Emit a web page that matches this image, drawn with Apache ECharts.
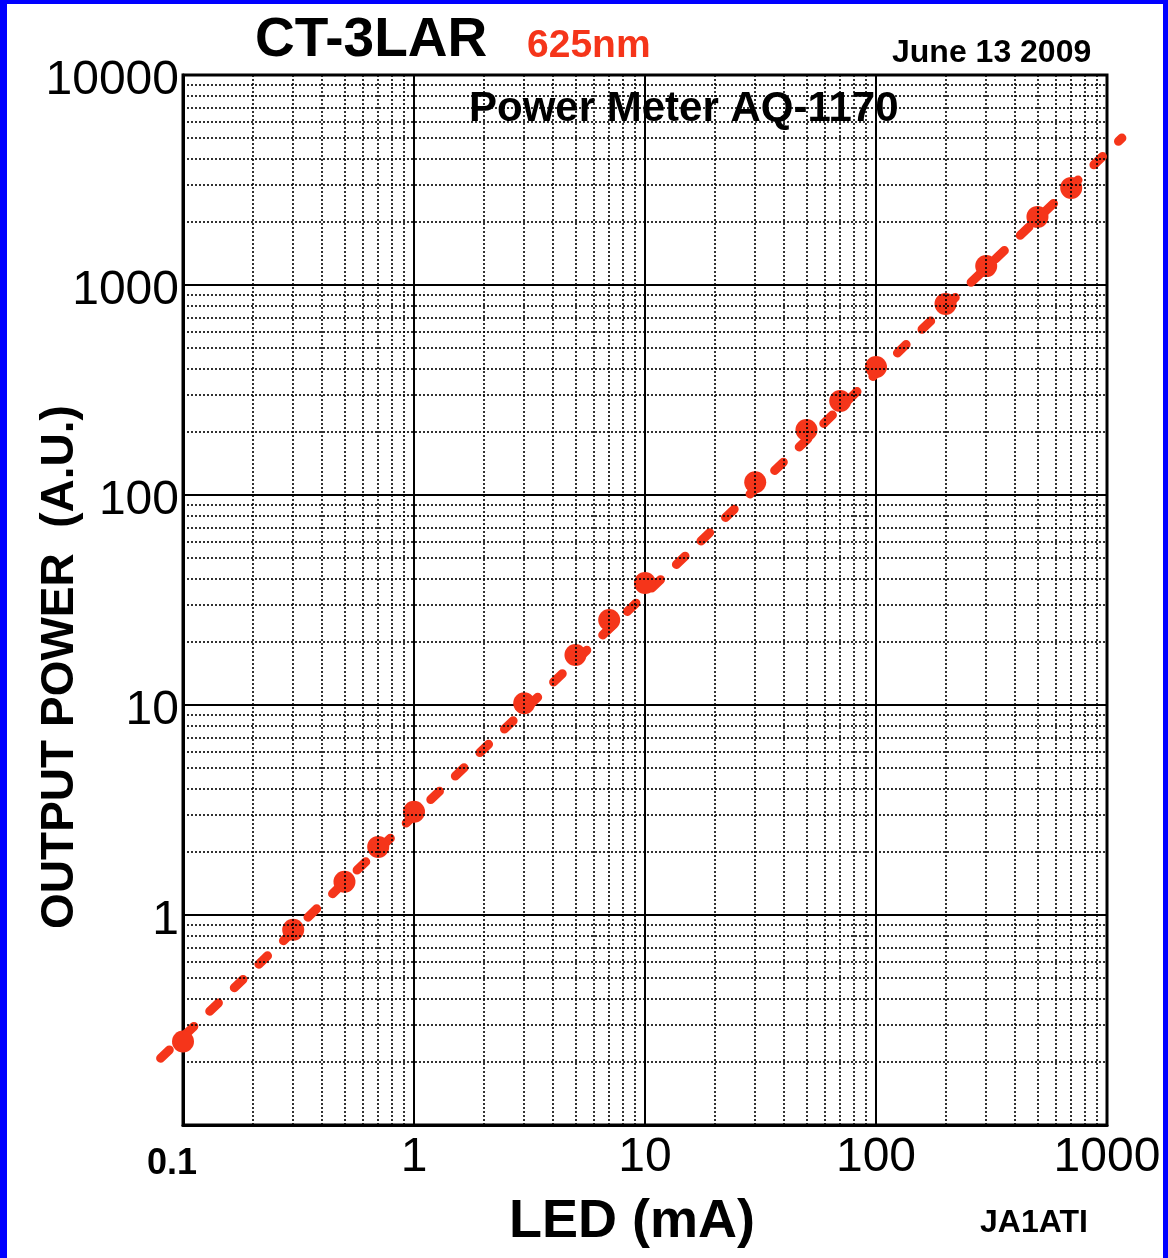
<!DOCTYPE html>
<html>
<head>
	<meta charset="utf-8">
	<title>CT-3LAR 625nm</title>
	<script src="https://cdn.jsdelivr.net/npm/echarts@6/dist/echarts.min.js"></script>
	<style>
		html, body { margin: 0; padding: 0; background: #fff; }
		#chart { width: 1168px; height: 1258px; }
	</style>
</head>
<body>
	<div id="chart"></div>
	<script>
		// measured points, LED current (mA) vs output power (A.U.)
		var ledCurrent = [0.1, 0.3, 0.5, 0.7, 1, 3, 5, 7, 10, 30, 50, 70, 100, 200, 300, 500, 700];
		var outputPower = [0.25, 0.85, 1.44, 2.11, 3.1, 10.2, 17.3, 25.4, 38.1, 115, 204, 280, 407, 813, 1230, 2110, 2900];

		// dashed fit line end points (runs a bit past the frame)
		var fitX = [0.08, 1160];
		var fitY = [0.208, 5010];

		// decades and minor multipliers for the grid
		var xDecades = [0.1, 1, 10, 100];
		var yDecades = [0.1, 1, 10, 100, 1000];
		var minorSteps = [2, 3, 4, 5, 6, 7, 8, 9];

		var red = '#f5351a';
		var font = '"Liberation Sans", Arial, Helvetica, sans-serif';

		var scatterData = ledCurrent.map(function (v, i) { return [v, outputPower[i]]; });
		var fitData = fitX.map(function (v, i) { return [v, fitY[i]]; });

		var minorLines = [];
		xDecades.forEach(function (d) {
			minorSteps.forEach(function (k) { minorLines.push({ xAxis: d * k }); });
		});
		yDecades.forEach(function (d) {
			minorSteps.forEach(function (k) { minorLines.push({ yAxis: d * k }); });
		});

		// main plot box
		var plotLeft = 183, plotTop = 75, plotW = 924, plotH = 1050;
		// the fit line sticks out of the box, so it gets its own hidden grid
		// sized so that its scale is the same as the main one
		var pxPerDecadeX = plotW / 4, pxPerDecadeY = plotH / 5;
		var fitLeft = plotLeft + Math.log10(fitX[0] / 0.1) * pxPerDecadeX;
		var fitRight = plotLeft + Math.log10(fitX[1] / 0.1) * pxPerDecadeX;
		var fitBottom = plotTop + plotH - Math.log10(fitY[0] / 0.1) * pxPerDecadeY;
		var fitTop = plotTop + plotH - Math.log10(fitY[1] / 0.1) * pxPerDecadeY;

		var chart = echarts.init(document.getElementById('chart'));
		chart.setOption({
			animation: false,
			backgroundColor: '#fff',
			textStyle: { fontFamily: font },
			grid: [{
				left: plotLeft, top: plotTop, width: plotW, height: plotH,
				outerBoundsMode: 'none',
				show: true, borderColor: '#000', borderWidth: 3
			}, {
				left: fitLeft, top: fitTop, width: fitRight - fitLeft, height: fitBottom - fitTop,
				outerBoundsMode: 'none'
			}],
			xAxis: [{
				type: 'log', logBase: 10, min: 0.1, max: 1000,
				name: 'LED (mA)', nameLocation: 'middle', nameGap: 70, nameMoveOverlap: false,
				nameTextStyle: { fontSize: 54, fontWeight: 'bold', color: '#000', padding: [0, 26, 0, 0] },
				axisLine: { lineStyle: { color: '#000', width: 3 } },
				axisTick: { show: false },
				axisLabel: {
					fontSize: 48, color: '#000', margin: 9,
					formatter: function (v) {
						if (v < 0.5) return '{b|0.1}';
						return String(Math.round(v));
					},
					rich: { b: { fontSize: 36, fontWeight: 'bold', color: '#000', padding: [12, 22, 0, 0] } }
				},
				splitLine: { show: true, lineStyle: { color: '#000', width: 2 } }
			}, {
				type: 'log', logBase: 10, gridIndex: 1, min: fitX[0], max: fitX[1], show: false
			}],
			yAxis: [{
				type: 'log', logBase: 10, min: 0.1, max: 10000,
				name: 'OUTPUT POWER  (A.U.)', nameLocation: 'middle', nameGap: 100, nameMoveOverlap: false,
				nameTextStyle: { fontSize: 46, fontWeight: 'bold', color: '#000', padding: [0, 134, 0, 0] },
				axisLine: { lineStyle: { color: '#000', width: 3 } },
				axisTick: { show: false },
				axisLabel: {
					color: '#000', margin: 4,
					formatter: function (v) {
						if (v < 0.5) return '';
						return '{a|' + Math.round(v) + '}';
					},
					rich: { a: { fontSize: 48, color: '#000', padding: [12, 0, 0, 0] } }
				},
				splitLine: { show: true, lineStyle: { color: '#000', width: 2 } }
			}, {
				type: 'log', logBase: 10, gridIndex: 1, min: fitY[0], max: fitY[1], show: false
			}],
			graphic: [
				// blue frame
				{ type: 'rect', shape: { x: 0, y: 0, width: 7, height: 1258 }, style: { fill: '#0000ff' } },
				{ type: 'rect', shape: { x: 0, y: 0, width: 1168, height: 4 }, style: { fill: '#0000ff' } },
				{ type: 'rect', shape: { x: 1163, y: 0, width: 5, height: 1258 }, style: { fill: '#0000ff' } },
				{ type: 'text', style: { x: 255, y: 41, text: 'CT-3LAR', font: 'bold 55px ' + font, fill: '#000', textVerticalAlign: 'middle' } },
				{ type: 'text', style: { x: 527, y: 46, text: '625nm', font: 'bold 39px ' + font, fill: red, textVerticalAlign: 'middle' } },
				{ type: 'text', style: { x: 892, y: 53, text: 'June 13 2009', font: 'bold 32px ' + font, fill: '#000', textVerticalAlign: 'middle' } },
				{ type: 'text', z: 10, style: { x: 469, y: 109, text: 'Power Meter AQ-1170', font: 'bold 42px ' + font, fill: '#000', textVerticalAlign: 'middle' } },
				{ type: 'text', style: { x: 980, y: 1223, text: 'JA1ATI', font: 'bold 32px ' + font, fill: '#000', textVerticalAlign: 'middle' } }
			],
			series: [
				{
					// minor grid lines at 2..9 of each decade
					type: 'line', data: [], z: 1, silent: true,
					markLine: {
						silent: true, symbol: 'none', label: { show: false },
						lineStyle: { color: '#000', width: 1.6, type: [2, 2] },
						data: minorLines
					}
				},
				{
					type: 'line', data: fitData, xAxisIndex: 1, yAxisIndex: 1, clip: false, z: 3,
					symbol: 'none',
					lineStyle: { color: red, width: 9, type: [12, 22], cap: 'round' }
				},
				{
					type: 'scatter', data: scatterData, clip: false, z: 4,
					symbolSize: 22,
					itemStyle: { color: red, opacity: 1 }
				}
			]
		});
	</script>
</body>
</html>
